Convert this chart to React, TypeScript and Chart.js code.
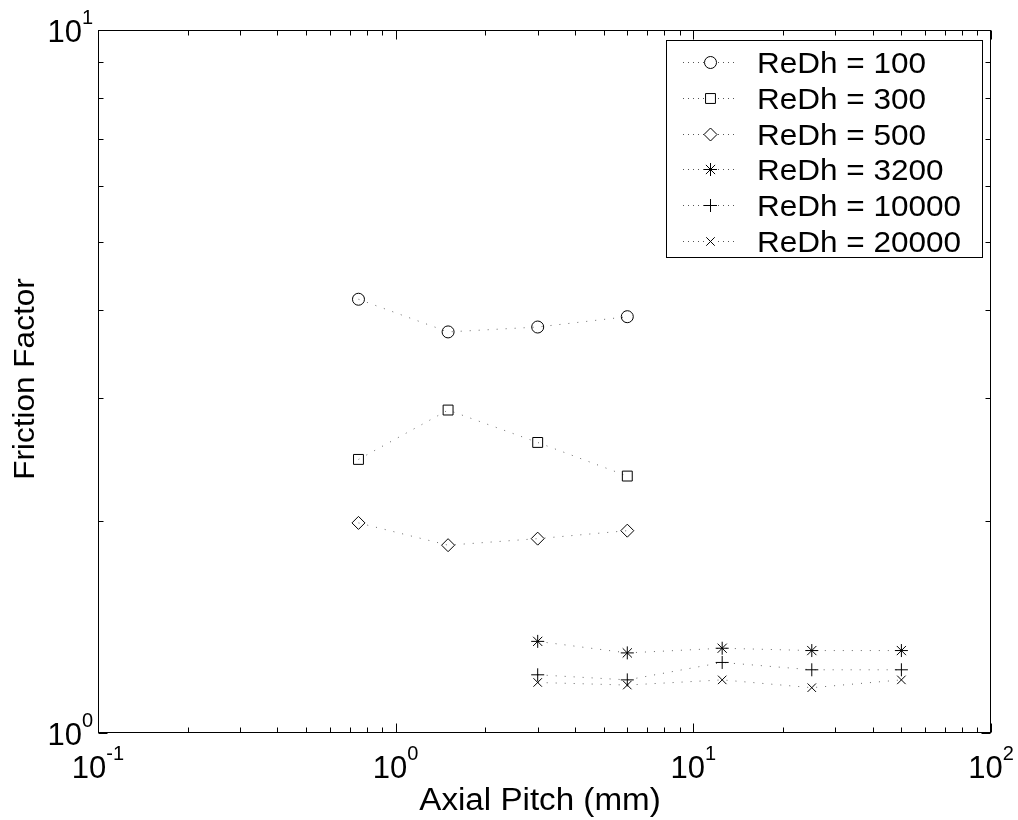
import React, { useEffect, useRef } from 'react';
import { Chart, registerables } from 'chart.js';
import { drawPoint } from 'chart.js/helpers';

Chart.register(...registerables);

// ---- data ----
const pitchSmall = [0.75, 1.5, 3, 6];
const pitchLarge = [3, 6, 12.5, 25, 50];

const f100 = [4.14, 3.72, 3.78, 3.91];
const f300 = [2.45, 2.88, 2.59, 2.32];
const f500 = [1.99, 1.85, 1.89, 1.94];
const f3200 = [1.35, 1.3, 1.32, 1.31, 1.31];
const f10000 = [1.21, 1.19, 1.26, 1.23, 1.23];
const f20000 = [1.18, 1.17, 1.19, 1.16, 1.19];

const seriesLabels = [
  'ReDh = 100',
  'ReDh = 300',
  'ReDh = 500',
  'ReDh = 3200',
  'ReDh = 10000',
  'ReDh = 20000',
];
const seriesStyles = ['circle', 'rect', 'rectRot', 'star', 'cross', 'crossRot'];
const seriesRadius = [6, 7, 6.5, 6.5, 6.5, 6];

const xMajorExps = [-1, 0, 1, 2];
const yMajorExps = [0, 1];
const xAxisTitle = 'Axial Pitch (mm)';
const yAxisTitle = 'Friction Factor';

const FONT = '"Liberation Sans", Arial, Helvetica, sans-serif';

function drawStretched(
  ctx: CanvasRenderingContext2D,
  text: string,
  x: number,
  y: number,
  size: number,
  sx: number,
  align: 'left' | 'center' | 'right'
) {
  ctx.save();
  ctx.font = `${size}px ${FONT}`;
  const w = ctx.measureText(text).width * sx;
  const left = align === 'center' ? x - w / 2 : align === 'right' ? x - w : x;
  ctx.translate(left, y);
  ctx.scale(sx, 1);
  ctx.textAlign = 'left';
  ctx.textBaseline = 'alphabetic';
  ctx.fillStyle = '#000';
  ctx.fillText(text, 0, 0);
  ctx.restore();
}

function drawPower(
  ctx: CanvasRenderingContext2D,
  exp: number,
  x: number,
  baseline: number,
  align: 'center' | 'right'
) {
  const mainSize = 31;
  const supSize = 20;
  ctx.save();
  ctx.font = `${mainSize}px ${FONT}`;
  const w1 = ctx.measureText('10').width;
  ctx.font = `${supSize}px ${FONT}`;
  const sup = String(exp);
  const w2 = ctx.measureText(sup).width;
  const total = w1 + w2;
  const left = align === 'center' ? x - total / 2 : x - total;
  ctx.fillStyle = '#000';
  ctx.textAlign = 'left';
  ctx.textBaseline = 'alphabetic';
  ctx.font = `${mainSize}px ${FONT}`;
  ctx.fillText('10', left, baseline);
  ctx.font = `${supSize}px ${FONT}`;
  ctx.fillText(sup, left + w1, baseline - 18);
  ctx.restore();
}

const framePlugin = {
  id: 'matlabFrame',
  afterDatasetsDraw(chart: any) {
    const ctx: CanvasRenderingContext2D = chart.ctx;
    const { left, right, top, bottom } = chart.chartArea;
    const xs = chart.scales.x;
    const ys = chart.scales.y;
    ctx.save();
    ctx.strokeStyle = '#000';
    ctx.lineWidth = 1;
    const L = Math.round(left) + 0.5;
    const R = Math.round(right) - 0.5;
    const T = Math.round(top) + 0.5;
    const B = Math.round(bottom) - 0.5;
    ctx.strokeRect(L, T, R - L, B - T);

    ctx.beginPath();
    // x ticks (bottom + top)
    for (let k = 0; k < xMajorExps.length; k++) {
      const e = xMajorExps[k];
      for (let m = 1; m <= 9; m++) {
        if (k === xMajorExps.length - 1 && m > 1) break;
        const v = m * Math.pow(10, e);
        const px = Math.round(xs.getPixelForValue(v)) + 0.5;
        const len = m === 1 ? 9 : 5;
        ctx.moveTo(px, B);
        ctx.lineTo(px, B - len);
        ctx.moveTo(px, T);
        ctx.lineTo(px, T + len);
      }
    }
    // y ticks (left + right)
    for (let k = 0; k < yMajorExps.length; k++) {
      const e = yMajorExps[k];
      for (let m = 1; m <= 9; m++) {
        if (k === yMajorExps.length - 1 && m > 1) break;
        const v = m * Math.pow(10, e);
        const py = Math.round(ys.getPixelForValue(v)) + 0.5;
        const len = m === 1 ? 9 : 5;
        ctx.moveTo(L, py);
        ctx.lineTo(L + len, py);
        ctx.moveTo(R, py);
        ctx.lineTo(R - len, py);
      }
    }
    ctx.stroke();

    // tick labels
    for (const e of xMajorExps) {
      const px = xs.getPixelForValue(Math.pow(10, e));
      drawPower(ctx, e, px, bottom + 45, 'center');
    }
    for (const e of yMajorExps) {
      const py = ys.getPixelForValue(Math.pow(10, e));
      drawPower(ctx, e, left - 5, py + 12, 'right');
    }

    // axis titles
    drawStretched(ctx, xAxisTitle, 540, 810, 31, 1.07, 'center');
    ctx.save();
    ctx.translate(34, 379);
    ctx.rotate(-Math.PI / 2);
    drawStretched(ctx, yAxisTitle, 0, 0, 30, 1.05, 'center');
    ctx.restore();

    // legend
    const bx = 666.5;
    const by = 40.5;
    const bw = 316;
    const bh = 217;
    ctx.fillStyle = '#fff';
    ctx.fillRect(bx, by, bw, bh);
    ctx.strokeStyle = '#000';
    ctx.strokeRect(bx, by, bw, bh);
    for (let i = 0; i < seriesLabels.length; i++) {
      const ry = Math.round(62 + i * 35.8);
      ctx.fillStyle = '#555';
      for (let dx = 683; dx <= 737; dx += 5) {
        if (Math.abs(dx - 710) < 7) continue;
        ctx.fillRect(dx, ry, 1, 1);
      }
      ctx.strokeStyle = '#000';
      ctx.fillStyle = 'rgba(0,0,0,0)';
      ctx.lineWidth = 1;
      drawPoint(
        ctx,
        {
          pointStyle: seriesStyles[i] as any,
          radius: seriesRadius[i],
          rotation: 0,
          borderWidth: 1,
        } as any,
        710.5,
        ry + 0.5
      );
      drawStretched(ctx, seriesLabels[i], 757, ry + 11, 30, 1.05, 'left');
    }
    ctx.restore();
  },
};

function toPoints(xs: number[], ys: number[]) {
  return xs.map((x, i) => ({ x, y: ys[i] }));
}

export default function App() {
  const ref = useRef<HTMLCanvasElement>(null);

  useEffect(() => {
    if (!ref.current) return;
    const values = [f100, f300, f500, f3200, f10000, f20000];
    const pitches = [pitchSmall, pitchSmall, pitchSmall, pitchLarge, pitchLarge, pitchLarge];
    const datasets = values.map((v, i) => ({
      label: seriesLabels[i],
      data: toPoints(pitches[i], v),
      showLine: true,
      borderColor: '#666',
      borderWidth: 1,
      borderDash: [1, 8],
      tension: 0,
      pointStyle: seriesStyles[i] as any,
      pointRadius: seriesRadius[i],
      pointBorderColor: '#000',
      pointBackgroundColor: 'rgba(0,0,0,0)',
      pointBorderWidth: 1,
    }));
    const chart = new Chart(ref.current, {
      type: 'line',
      data: { datasets },
      options: {
        animation: false,
        responsive: false,
        devicePixelRatio: 1,
        layout: { padding: { left: 98, top: 30, right: 27, bottom: 87 } },
        plugins: {
          legend: { display: false },
          tooltip: { enabled: false },
        },
        scales: {
          x: { type: 'logarithmic', min: 0.1, max: 100, display: false },
          y: { type: 'logarithmic', min: 1, max: 10, display: false },
        },
      },
      plugins: [framePlugin],
    });
    return () => chart.destroy();
  }, []);

  return (
    <div
      style={{
        position: 'fixed',
        left: 0,
        top: 0,
        width: 1018,
        height: 820,
        background: '#fff',
      }}
    >
      <canvas
        ref={ref}
        width={1018}
        height={820}
        style={{ width: 1018, height: 820, display: 'block' }}
      />
    </div>
  );
}
